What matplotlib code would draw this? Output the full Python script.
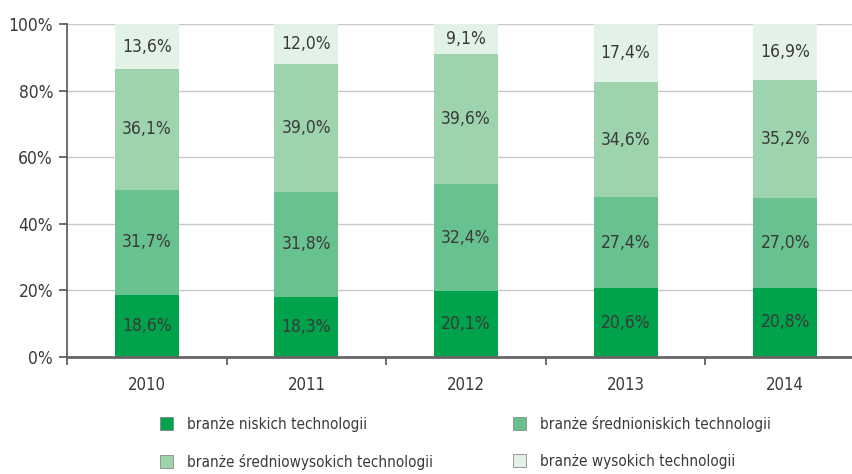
import numpy as np
import matplotlib.pyplot as plt
from matplotlib.patches import Patch

years = ["2010", "2011", "2012", "2013", "2014"]
low = [18.6, 18.3, 20.1, 20.6, 20.8]
mid_low = [31.7, 31.8, 32.4, 27.4, 27.0]
mid_high = [36.1, 39.0, 39.6, 34.6, 35.2]
high = [13.6, 12.0, 9.1, 17.4, 16.9]

series = [low, mid_low, mid_high, high]
names = ["branże niskich technologii", "branże średnioniskich technologii",
         "branże średniowysokich technologii", "branże wysokich technologii"]
colors = ["#00a24b", "#67c28f", "#9dd4ae", "#e2f2e7"]

plt.rcParams['font.family'] = ['DejaVu Sans']
plt.rcParams['font.stretch'] = 'condensed'
text_color = "#3a3a3a"

fig = plt.figure(figsize=(8.53, 4.74), dpi=100)
ax = fig.add_axes([67 / 853, (474 - 357) / 474, 798 / 853, 333 / 474])

x = np.arange(len(years))
# the chart is a 100% stacked bar: each column scaled to sum to 100
totals = np.sum(series, axis=0)
bottom = np.zeros(len(years))
for vals, col in zip(series, colors):
    vals = np.array(vals)
    h = vals / totals * 100
    ax.bar(x, h, 0.4, bottom=bottom, color=col, zorder=2)
    for xi, b, hh, v in zip(x, bottom, h, vals):
        ax.text(xi, b + hh / 2, f"{v:.1f}%".replace(".", ","), ha="center", va="center",
                fontsize=12.5, color=text_color, zorder=3)
    bottom += h

ax.set_xlim(-0.5, len(years) - 0.5)
ax.set_ylim(0, 100)
ax.set_yticks(np.arange(0, 101, 20))
ax.set_yticklabels([f"{v}%" for v in range(0, 101, 20)], fontsize=12.5, color=text_color)
ax.set_xticks(x)
ax.set_xticklabels(years, fontsize=12, color=text_color)
ax.set_xticks(np.arange(-0.5, len(years), 1), minor=True)
ax.tick_params(axis="x", which="major", length=0, pad=14)
ax.tick_params(axis="x", which="minor", length=6, color="#555555", width=1.2)
ax.tick_params(axis="y", length=6, color="#555555", width=1.2, pad=4)
ax.yaxis.grid(True, color="#c8c8c8", linewidth=1, zorder=0)
ax.set_axisbelow(True)
for s in ["top", "right"]:
    ax.spines[s].set_visible(False)
ax.spines["left"].set_color("#555555")
ax.spines["bottom"].set_color("#666666")
ax.spines["left"].set_linewidth(1.2)
ax.spines["bottom"].set_linewidth(2)

# legend filled column-wise, so reorder to get rows like the reference
order = [0, 2, 1, 3]
handles = [Patch(facecolor=colors[i], edgecolor="#888888", linewidth=0.6) for i in order]
labels = [names[i] for i in order]
fig.legend(handles, labels, ncol=2, loc="upper left", bbox_to_anchor=(146 / 853, 1 - 402 / 474),
           frameon=False, fontsize=11, labelcolor=text_color, handlelength=0.9, handleheight=0.9,
           columnspacing=5.2, labelspacing=1.45, handletextpad=0.9)

fig.savefig("out.png", dpi=100)
